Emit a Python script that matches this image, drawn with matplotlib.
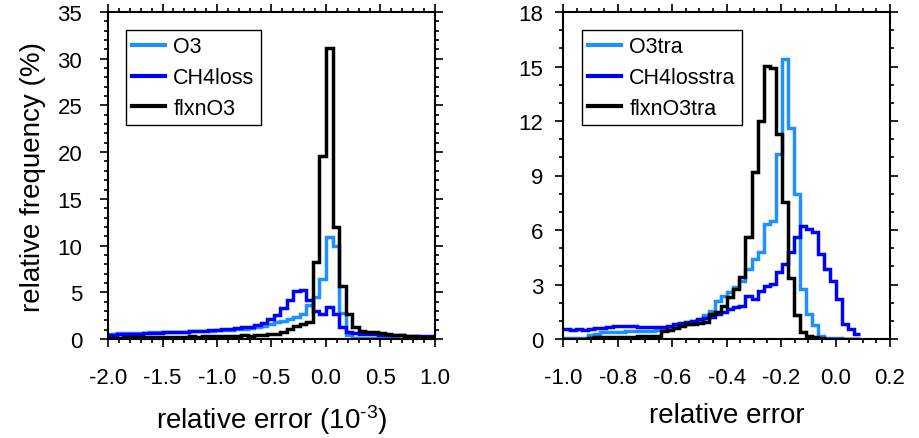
import numpy as np
import matplotlib
matplotlib.use("Agg")
import matplotlib.pyplot as plt
from matplotlib.ticker import MultipleLocator

plt.rcParams['font.family'] = ['Liberation Sans', 'DejaVu Sans']
plt.rcParams['mathtext.default'] = 'regular'
plt.rcParams['axes.unicode_minus'] = False

# ---------------- left panel data (bin width 0.06, in 1e-3 units) ----------------
left_edge_start = -2.04
left_bin_width = 0.06
left_o3 = [0.55, 0.55, 0.6, 0.6, 0.6, 0.65, 0.65, 0.7, 0.7, 0.75, 0.75, 0.8, 0.8, 0.85,
           0.85, 0.9, 0.9, 0.95, 1.0, 1.0, 1.05, 1.1, 1.2, 1.3, 1.4, 1.6, 1.8, 1.9, 2.1,
           2.4, 2.7, 3.6, 4.5, 6.4, 10.9, 10.0, 2.8, 0.4, 0.15, 0.1, 0.1, 0.08, 0.08,
           0.06, 0.06, 0.05, 0.05, 0.04, 0.04, 0.03, 0.03]
left_ch4loss = [0.45, 0.45, 0.5, 0.5, 0.55, 0.55, 0.6, 0.6, 0.65, 0.7, 0.7, 0.75, 0.8,
                0.85, 0.85, 0.9, 0.95, 1.0, 1.05, 1.1, 1.15, 1.25, 1.3, 1.5, 1.7, 2.1,
                2.6, 3.3, 4.2, 5.1, 5.2, 4.2, 3.0, 2.7, 3.4, 2.7, 1.3, 0.8, 0.6, 0.55,
                0.5, 0.5, 0.45, 0.45, 0.4, 0.4, 0.35, 0.35, 0.3, 0.3, 0.3]
left_flxno3 = [0.15, 0.15, 0.15, 0.2, 0.2, 0.2, 0.2, 0.2, 0.25, 0.2, 0.25, 0.25, 0.25,
               0.3, 0.25, 0.3, 0.3, 0.3, 0.35, 0.3, 0.35, 0.4, 0.35, 0.4, 0.45, 0.5,
               0.5, 0.75, 1.05, 1.4, 1.6, 1.8, 8.2, 19.6, 31.2, 12.0, 5.7, 2.7, 1.3,
               0.9, 0.8, 0.7, 0.6, 0.5, 0.45, 0.4, 0.35, 0.3, 0.25, 0.2, 0.2]

# ---------------- right panel data (50 bins) ----------------
right_range = (-1.019, 0.091)
right_o3tra = [0.05, 0.05, 0.05, 0.05, 0.05, 0.2, 0.3, 0.37, 0.37, 0.37, 0.4, 0.45,
               0.45, 0.46, 0.46, 0.46, 0.5, 0.55, 0.6, 0.65, 0.8, 0.85, 1.0, 1.05,
               1.3, 1.55, 2.1, 2.35, 2.6, 2.85, 3.21, 3.85, 4.4, 4.77, 6.33, 6.51,
               10.18, 15.41, 11.59, 7.98, 2.75, 1.38, 0.77, 0.18, 0.05, 0.03, 0.03,
               0.02, 0.02, 0.02]
right_ch4losstra = [0.55, 0.55, 0.5, 0.55, 0.5, 0.55, 0.6, 0.6, 0.65, 0.72, 0.72,
                    0.73, 0.7, 0.68, 0.65, 0.64, 0.65, 0.66, 0.72, 0.85, 0.9, 0.95,
                    1.0, 1.1, 1.15, 1.2, 1.35, 1.5, 1.65, 1.75, 1.8, 2.39, 2.2, 2.66,
                    2.94, 3.03, 3.67, 4.13, 4.77, 5.6, 6.24, 6.05, 5.9, 4.68, 3.85,
                    3.21, 2.2, 0.83, 0.55, 0.28]
right_flxno3tra = [0.02, 0.02, 0.02, 0.02, 0.02, 0.05, 0.09, 0.09, 0.09, 0.09, 0.09,
                   0.09, 0.09, 0.15, 0.17, 0.18, 0.18, 0.46, 0.5, 0.6, 0.7, 0.8, 0.83,
                   0.9, 0.92, 1.37, 1.47, 1.83, 2.3, 2.75, 3.39, 5.6, 9.21, 12.02,
                   15.04, 14.9, 11.28, 7.53, 3.34, 1.32, 0.37, 0.18, 0.1, 0.05, 0.02,
                   0.0, 0.0, 0.0, 0.0, 0.0]

left_labels = ["O3", "CH4loss", "flxnO3"]
right_labels = ["O3tra", "CH4losstra", "flxnO3tra"]
colors = ["#1E90FF", "#0000FF", "#000000"]

left_xticks = [-2.0, -1.5, -1.0, -0.5, 0.0, 0.5, 1.0]
left_xticklabels = ["-2.0", "-1.5", "-1.0", "-0.5", "0.0", "0.5", "1.0"]
left_yticks = [0, 5, 10, 15, 20, 25, 30, 35]
right_xticks = [-1.0, -0.8, -0.6, -0.4, -0.2, 0.0, 0.2]
right_xticklabels = ["-1.0", "-0.8", "-0.6", "-0.4", "-0.2", "0.0", "0.2"]
right_yticks = [0, 3, 6, 9, 12, 15, 18]

fig = plt.figure(figsize=(9.2, 4.39), dpi=100)
W, H = 920.0, 439.0
axL = fig.add_axes([108 / W, 1 - 340 / H, 327 / W, 327 / H])
axR = fig.add_axes([563.3 / W, 1 - 340 / H, 326.7 / W, 327 / H])

n_left = len(left_o3)
left_edges = left_edge_start + left_bin_width * np.arange(n_left + 1)
right_edges = np.linspace(right_range[0], right_range[1], len(right_o3tra) + 1)

lw = 2.5
for vals, c, lab in zip([left_o3, left_ch4loss, left_flxno3], colors, left_labels):
    axL.stairs(vals, left_edges, baseline=None, color=c, lw=lw, label=lab)
for vals, c, lab in zip([right_o3tra, right_ch4losstra, right_flxno3tra], colors, right_labels):
    axR.stairs(vals, right_edges, baseline=None, color=c, lw=lw, label=lab)

tick_fs = 16
for ax in (axL, axR):
    for s in ax.spines.values():
        s.set_linewidth(1.5)
    ax.tick_params(which='both', direction='out', top=True, right=True,
                   width=1.2, labelsize=tick_fs)
    ax.tick_params(which='major', length=5.5)
    ax.tick_params(which='minor', length=3)
    ax.tick_params(axis='x', which='major', pad=15)

axL.set_xlim(-2.0, 1.0)
axL.set_ylim(0, 35)
axL.set_xticks(left_xticks, left_xticklabels)
axL.set_yticks(left_yticks)
axL.xaxis.set_minor_locator(MultipleLocator(0.1))
axL.yaxis.set_minor_locator(MultipleLocator(1))
axL.tick_params(axis='y', which='major', pad=13)

axR.set_xlim(-1.0, 0.2)
axR.set_ylim(0, 18)
axR.set_xticks(right_xticks, right_xticklabels)
axR.set_yticks(right_yticks)
axR.xaxis.set_minor_locator(MultipleLocator(0.05))
axR.yaxis.set_minor_locator(MultipleLocator(1))
axR.tick_params(axis='y', which='major', pad=9)

lab_fs = 20
axL.set_xlabel("relative error (10$^{\u20103}$)", fontsize=lab_fs, labelpad=10)
axL.set_ylabel("relative frequency (%)", fontsize=lab_fs, labelpad=8)
axR.set_xlabel("relative error", fontsize=lab_fs, labelpad=10)

leg_kw = dict(loc='upper left', fontsize=15.5, frameon=True, fancybox=False,
              framealpha=1, edgecolor='black', handlelength=1.5,
              handletextpad=0.4, borderpad=0.3, labelspacing=0.45,
              borderaxespad=0)
legL = axL.legend(bbox_to_anchor=(0.055, 0.945), **leg_kw)
legR = axR.legend(bbox_to_anchor=(0.057, 0.945), **leg_kw)
for leg in (legL, legR):
    leg.get_frame().set_linewidth(1.0)
    for h in leg.get_lines():
        h.set_linewidth(3)

fig.savefig("out.png", dpi=100)
